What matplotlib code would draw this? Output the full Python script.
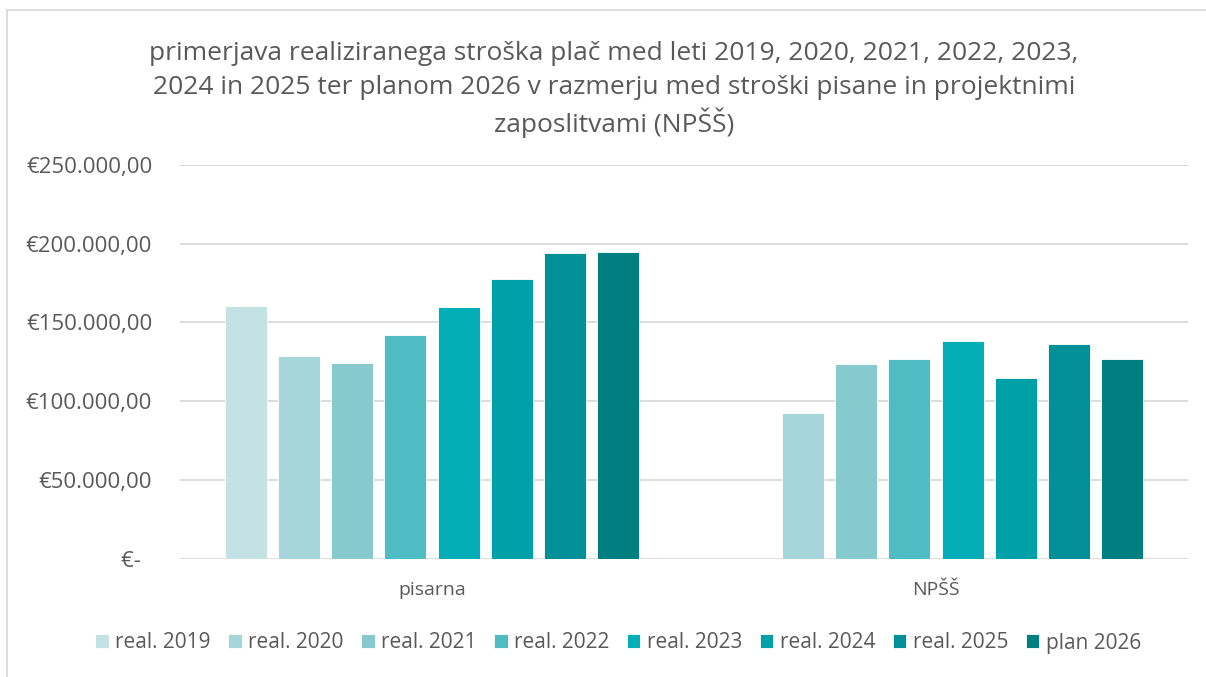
import matplotlib
import matplotlib.pyplot as plt
import numpy as np
from matplotlib.patches import Rectangle
from matplotlib.ticker import FuncFormatter

matplotlib.use("agg")

categories = ["pisarna", "NPŠŠ"]
series_labels = [
    "real. 2019",
    "real. 2020",
    "real. 2021",
    "real. 2022",
    "real. 2023",
    "real. 2024",
    "real. 2025",
    "plan 2026",
]
pisarna = [160500, 128800, 124100, 142300, 160100, 177700, 194400, 194900]
npss = [0, 92800, 123500, 126700, 138300, 115000, 136600, 126700]
colors = [
    "#c4e1e4",
    "#a7d6da",
    "#87cacd",
    "#4fbcc4",
    "#02adb6",
    "#00a0a8",
    "#009095",
    "#007f81",
]
title_lines = [
    "primerjava realiziranega stroška plač med leti 2019, 2020, 2021, 2022, 2023,",
    "2024 in 2025 ter planom 2026 v razmerju med stroški pisane in projektnimi",
    "zaposlitvami (NPŠŠ)",
]

text_color = "#595959"
grid_color = "#d9d9d9"
plt.rcParams["font.family"] = ["Open Sans", "DejaVu Sans"]

W, H = 1206, 677
fig = plt.figure(figsize=(W / 100, H / 100), dpi=100)
ax = fig.add_axes([180 / W, 1 - 558.7 / H, 1008 / W, (558.7 - 165) / H])

x = np.arange(len(categories))
slot = 0.1056
bar_w = 0.0833
values = np.array([pisarna, npss]).T
for i, label in enumerate(series_labels):
    ax.bar(
        x + (i - 3.5) * slot,
        values[i],
        width=bar_w,
        color=colors[i],
        edgecolor="white",
        linewidth=0.6,
        label=label,
        zorder=2,
    )

ax.set_xlim(-0.5, 1.5)
ax.set_ylim(0, 250000)
ax.set_yticks(np.arange(0, 250001, 50000))


def euro(v, pos):
    if v == 0:
        return "€-  "
    return "€" + f"{v:,.2f}".replace(",", "X").replace(".", ",").replace("X", ".")


ax.yaxis.set_major_formatter(FuncFormatter(euro))
ax.set_xticks(x, categories)
ax.tick_params(axis="both", length=0, colors=text_color)
ax.tick_params(axis="y", pad=20, labelsize=16)
ax.tick_params(axis="x", pad=16, labelsize=14)
ax.grid(axis="y", color=grid_color, linewidth=1.3, zorder=0)
for s in ax.spines.values():
    s.set_visible(False)

for line, yc in zip(title_lines, [53, 88, 123]):
    fig.text(614 / W, 1 - yc / H, line, ha="center", va="center",
             fontsize=19, color=text_color)

fig.legend(
    loc="center",
    bbox_to_anchor=(618 / W, 1 - 643 / H),
    ncol=8,
    frameon=False,
    fontsize=15,
    handlelength=0.65,
    handleheight=0.65,
    handletextpad=0.3,
    columnspacing=0.85,
    labelcolor=text_color,
)

fig.patches.append(Rectangle((7 / W, -0.1), 1.2, 1 - 10 / H + 0.1,
                             transform=fig.transFigure, fill=False,
                             edgecolor=grid_color, linewidth=1.3))

plt.savefig("out.png", dpi=100)
plt.close()
